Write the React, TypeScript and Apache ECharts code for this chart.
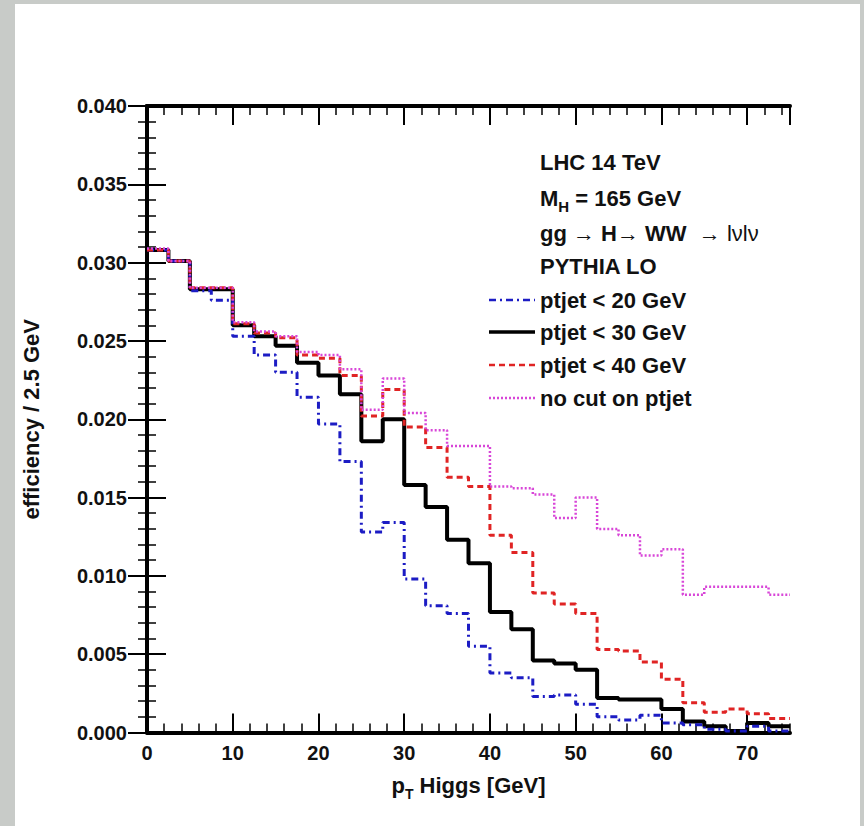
import React, { useEffect, useRef } from "react";
import * as echarts from "echarts";

// Bin edges of the histogram (GeV), bin width 2.5 GeV
const binEdges = [
  0, 2.5, 5, 7.5, 10, 12.5, 15, 17.5, 20, 22.5, 25, 27.5, 30, 32.5, 35, 37.5,
  40, 42.5, 45, 47.5, 50, 52.5, 55, 57.5, 60, 62.5, 65, 67.5, 70, 72.5, 75,
];

// efficiency / 2.5 GeV, one value per bin
const ptjet20 = [
  0.0308, 0.0301, 0.0282, 0.0276, 0.0253, 0.0241, 0.0230, 0.0214, 0.0197, 0.0173,
  0.0128, 0.0134, 0.0098, 0.0081, 0.0076, 0.0055, 0.0038, 0.0035, 0.0023, 0.0024,
  0.0018, 0.0010, 0.0008, 0.0011, 0.0006, 0.0005, 0.0002, 0.0001, 0.0004, 0.0001,
];
const ptjet30 = [
  0.0308, 0.0301, 0.0283, 0.0283, 0.0260, 0.0253, 0.0247, 0.0236, 0.0228, 0.0216,
  0.0186, 0.0200, 0.0158, 0.0144, 0.0123, 0.0108, 0.0077, 0.0066, 0.0046, 0.0044,
  0.0040, 0.0022, 0.0021, 0.0021, 0.0015, 0.0007, 0.0004, 0.0001, 0.0006, 0.0004,
];
const ptjet40 = [
  0.0308, 0.0301, 0.0284, 0.0284, 0.0261, 0.0255, 0.0252, 0.0241, 0.0239, 0.0228,
  0.0202, 0.0219, 0.0195, 0.0182, 0.0163, 0.0157, 0.0126, 0.0115, 0.0089, 0.0082,
  0.0076, 0.0053, 0.0052, 0.0045, 0.0034, 0.0019, 0.0013, 0.0015, 0.0012, 0.0009,
];
const noCut = [
  0.0309, 0.0301, 0.0284, 0.0284, 0.0262, 0.0256, 0.0253, 0.0243, 0.0241, 0.0232,
  0.0206, 0.0226, 0.0204, 0.0193, 0.0183, 0.0183, 0.0157, 0.0156, 0.0152, 0.0137,
  0.0150, 0.0130, 0.0126, 0.0113, 0.0117, 0.0088, 0.0093, 0.0093, 0.0093, 0.0088,
];

const infoLines = ["LHC 14 TeV", "M_H = 165 GeV", "gg → H→ WW → lνlν", "PYTHIA LO"];
const seriesNames = ["ptjet < 20 GeV", "ptjet < 30 GeV", "ptjet < 40 GeV", "no cut on ptjet"];

const FONT = "'Liberation Sans', Arial, Helvetica, sans-serif";
const BLUE = "#1c1cc4";
const BLACK = "#000000";
const RED = "#e02424";
const PINK = "#d846d8";

function histPoints(values: number[]) {
  const pts: number[][] = [];
  values.forEach((v, i) => {
    pts.push([binEdges[i], v]);
    pts.push([binEdges[i + 1], v]);
  });
  return pts;
}

export default function App() {
  const ref = useRef<HTMLDivElement>(null);

  useEffect(() => {
    if (!ref.current) return;
    const chart = echarts.init(ref.current, undefined, { renderer: "svg" });

    const styles = [
      { color: BLUE, width: 3, type: [7, 4, 2, 4] as any },
      { color: BLACK, width: 4, type: "solid" as any },
      { color: RED, width: 3, type: [6, 4] as any },
      { color: PINK, width: 2.5, type: [2, 2] as any },
    ];
    const dataSets = [ptjet20, ptjet30, ptjet40, noCut];
    const order = [1, 0, 2, 3]; // black drawn first

    const series = order.map((idx, k) => ({
      name: seriesNames[idx],
      type: "line",
      xAxisIndex: 0,
      yAxisIndex: 0,
      data: histPoints(dataSets[idx]),
      showSymbol: false,
      symbol: "none",
      lineStyle: styles[idx],
      z: 3 + k,
      silent: true,
    }));

    const txtBold = { fontFamily: FONT, fontWeight: "bold", fontSize: 22, fill: "#111" };
    const legendGraphics: any[] = [];
    const infoY = [162, 198, 233, 266];
    const entryY = [300, 332, 365, 398];
    const TX = 540;

    legendGraphics.push({
      type: "text",
      x: TX,
      y: infoY[0],
      style: { ...txtBold, text: infoLines[0], verticalAlign: "middle" },
    });
    legendGraphics.push({
      type: "text",
      x: TX,
      y: infoY[1],
      style: {
        text: "{b|M}{s|H}{b| = 165 GeV}",
        verticalAlign: "middle",
        rich: {
          b: { fontFamily: FONT, fontWeight: "bold", fontSize: 22, lineHeight: 32, fill: "#111" },
          s: { fontFamily: FONT, fontWeight: "bold", fontSize: 15, lineHeight: 15, verticalAlign: "bottom", fill: "#111" },
        },
      },
    });
    legendGraphics.push({
      type: "text",
      x: TX,
      y: infoY[2],
      style: {
        text: "{b|gg }{a|→}{b| H}{a|→}{b| WW  }{a|→}{n| lνlν}",
        verticalAlign: "middle",
        rich: {
          b: { fontFamily: FONT, fontWeight: "bold", fontSize: 22, fill: "#111" },
          a: { fontFamily: FONT, fontWeight: "normal", fontSize: 22, fill: "#111" },
          n: { fontFamily: FONT, fontWeight: "normal", fontSize: 22, fill: "#111" },
        },
      },
    });
    legendGraphics.push({
      type: "text",
      x: TX,
      y: infoY[3],
      style: { ...txtBold, text: infoLines[3], verticalAlign: "middle" },
    });
    seriesNames.forEach((name, i) => {
      legendGraphics.push({
        type: "line",
        shape: { x1: 489, y1: entryY[i], x2: 535, y2: entryY[i] },
        style: {
          stroke: styles[i].color,
          lineWidth: i === 1 ? 3.5 : 2.5,
          lineDash: Array.isArray(styles[i].type) ? styles[i].type : null,
        },
      });
      legendGraphics.push({
        type: "text",
        x: TX,
        y: entryY[i],
        style: { ...txtBold, text: name, verticalAlign: "middle" },
      });
    });

    const axisLineStyle = { color: "#000", width: 4 };
    const majorTick = { show: true, inside: true, length: 19, lineStyle: { color: "#000", width: 2 } };
    const minorTickX = { show: true, inside: true, length: 9, lineStyle: { color: "#000", width: 1.5 } };

    chart.setOption({
      animation: false,
      backgroundColor: "transparent",
      grid: { left: 147, right: 74, top: 106, bottom: 93.5, containLabel: false },
      xAxis: [
        {
          type: "value",
          position: "bottom",
          min: 0,
          max: 75,
          interval: 10,
          axisLine: { show: true, lineStyle: axisLineStyle },
          axisTick: majorTick,
          splitLine: { show: false },
          axisLabel: {
            show: true,
            margin: 10,
            fontFamily: FONT,
            fontWeight: "bold",
            fontSize: 20,
            color: "#111",
            showMaxLabel: false,
          },
          name: "{p|p}{t|T}{p| Higgs [GeV]}",
          nameLocation: "middle",
          nameGap: 53,
          nameTextStyle: {
            verticalAlign: "middle",
            rich: {
              p: { fontFamily: FONT, fontWeight: "bold", fontSize: 22, lineHeight: 30, color: "#111" },
              t: { fontFamily: FONT, fontWeight: "bold", fontSize: 14, lineHeight: 14, verticalAlign: "bottom", color: "#111" },
            },
          },
        },
        {
          type: "value",
          position: "bottom",
          min: 0,
          max: 75,
          interval: 2,
          axisLine: { show: false },
          axisTick: minorTickX,
          splitLine: { show: false },
          axisLabel: { show: false },
        },
        {
          type: "value",
          position: "top",
          min: 0,
          max: 75,
          interval: 10,
          axisLine: { show: true, lineStyle: axisLineStyle },
          axisTick: majorTick,
          splitLine: { show: false },
          axisLabel: { show: false },
        },
        {
          type: "value",
          position: "top",
          min: 0,
          max: 75,
          interval: 2,
          axisLine: { show: false },
          axisTick: minorTickX,
          splitLine: { show: false },
          axisLabel: { show: false },
        },
      ],
      yAxis: [
        {
          type: "value",
          position: "left",
          min: 0,
          max: 0.04,
          interval: 0.005,
          axisLine: { show: true, lineStyle: axisLineStyle },
          axisTick: majorTick,
          minorTick: { show: true, splitNumber: 5, length: 9, lineStyle: { color: "#000", width: 1.5 } },
          splitLine: { show: false },
          minorSplitLine: { show: false },
          axisLabel: {
            show: true,
            margin: 20,
            fontFamily: FONT,
            fontWeight: "bold",
            fontSize: 20,
            color: "#111",
            formatter: (v: number) => v.toFixed(3),
          },
          name: "efficiency / 2.5 GeV",
          nameLocation: "middle",
          nameGap: 116,
          nameTextStyle: {
            fontFamily: FONT,
            fontWeight: "bold",
            fontSize: 22,
            color: "#111",
            verticalAlign: "middle",
          },
        },
        {
          type: "value",
          position: "right",
          min: 0,
          max: 0.04,
          interval: 0.005,
          axisLine: { show: true, lineStyle: axisLineStyle },
          axisTick: majorTick,
          minorTick: { show: true, splitNumber: 5, length: 9, lineStyle: { color: "#000", width: 1.5 } },
          splitLine: { show: false },
          minorSplitLine: { show: false },
          axisLabel: { show: false },
        },
      ],
      graphic: legendGraphics,
      series,
    } as any);

    return () => chart.dispose();
  }, []);

  return (
    <div
      style={{
        position: "fixed",
        left: 0,
        top: 0,
        width: 864,
        height: 826,
        background: "#c8cbc8",
        overflow: "hidden",
      }}
    >
      <div
        style={{
          position: "absolute",
          left: 15,
          top: 4,
          width: 845,
          height: 822,
          background: "#ffffff",
        }}
      />
      <div
        ref={ref}
        style={{ position: "absolute", left: 0, top: 0, width: 864, height: 826 }}
      />
    </div>
  );
}
